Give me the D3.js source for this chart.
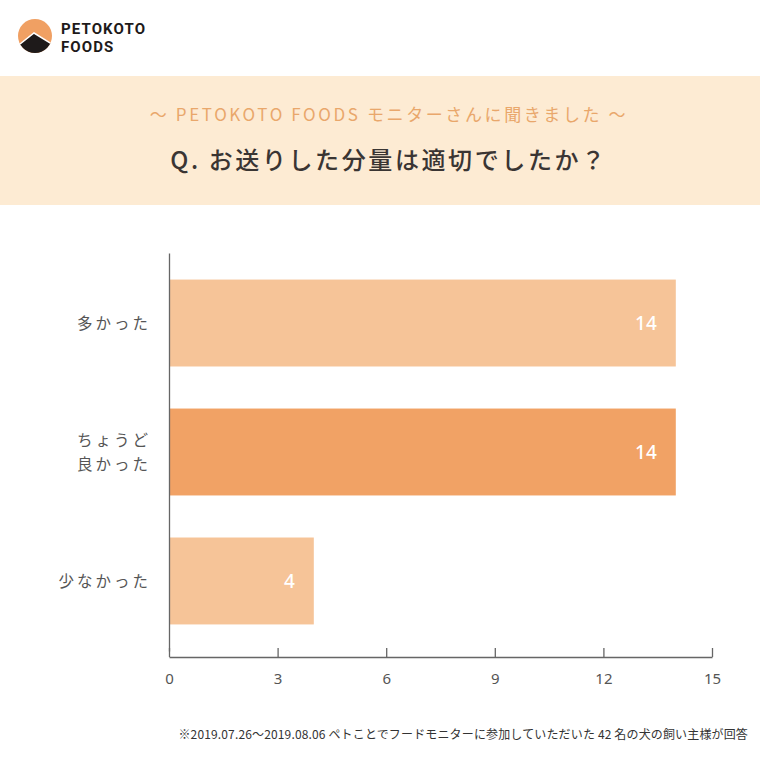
<!DOCTYPE html>
<html>
<head>
<meta charset="utf-8">
<script src="https://cdn.jsdelivr.net/npm/d3@7"></script>
<style>
  body { margin: 0; background: #fff; }
  svg { display: block; }
  text { font-family: "Noto Sans CJK JP", "Noto Sans", sans-serif; }
</style>
</head>
<body>
<div id="chart"></div>
<script>
// data
const categories = ['多かった', 'ちょうど\n良かった', '少なかった']
const counts = [14, 14, 4]
const barColors = ['#f6c498', '#f1a265', '#f6c498']
const xTicks = [0, 3, 6, 9, 12, 15]

const subtitle = '〜 PETOKOTO  FOODS モニターさんに聞きました 〜'
const title = 'Q. お送りした分量は適切でしたか？'
const footnote = '※2019.07.26〜2019.08.06 ペトことでフードモニターに参加していただいた 42 名の犬の飼い主様が回答'

const W = 760, H = 760
const margin = {top: 253, right: 48, bottom: 103, left: 169}

const svg = d3.select('#chart').append('svg')
  .attr('width', W)
  .attr('height', H)

// header logo
const logo = svg.append('g').attr('transform', 'translate(35,36)')
logo.append('clipPath').attr('id', 'logo-clip')
  .append('circle').attr('r', 17)
logo.append('circle').attr('r', 17).attr('fill', '#f0a063')
logo.append('path')
  .attr('clip-path', 'url(#logo-clip)')
  .attr('d', 'M-20,12 L-1,-3 L20,10 L20,20 L-20,20 Z')
  .attr('fill', '#1e1a1a')
  .attr('stroke', '#fff')
  .attr('stroke-width', 1.5)
svg.append('text')
  .attr('x', 61).attr('y', 34)
  .style('font-family', 'Roboto, sans-serif')
  .style('font-weight', 700)
  .style('font-size', '15px')
  .style('letter-spacing', '1.1px')
  .attr('fill', '#1e1a1a')
  .text('PETOKOTO')
svg.append('text')
  .attr('x', 61).attr('y', 52)
  .style('font-family', 'Roboto, sans-serif')
  .style('font-weight', 700)
  .style('font-size', '15px')
  .style('letter-spacing', '1.1px')
  .attr('fill', '#1e1a1a')
  .text('FOODS')

// banner
svg.append('rect')
  .attr('x', 0).attr('y', 76)
  .attr('width', W).attr('height', 129)
  .attr('fill', '#fdebd3')
svg.append('text')
  .attr('x', 389).attr('y', 121)
  .attr('text-anchor', 'middle')
  .style('font-size', '17px')
  .style('letter-spacing', '2.6px')
  .attr('fill', '#e9a76b')
  .text(subtitle)
svg.append('text')
  .attr('x', 389).attr('y', 169)
  .attr('text-anchor', 'middle')
  .style('font-size', '24px')
  .style('font-weight', 500)
  .style('letter-spacing', '2.6px')
  .attr('fill', '#3a3533')
  .text(title)

// chart
const innerH = H - margin.top - margin.bottom
const g = svg.append('g')
  .attr('transform', `translate(${margin.left},${margin.top})`)

const xs = d3.scaleLinear().domain([0, 15]).range([0, 15 * 36.2])
const ys = d3.scaleBand().domain(categories).range([0, innerH - 6])
  .paddingInner(0.326).paddingOuter(0.206)

// bars
g.selectAll('.bar')
  .data(categories)
  .enter().append('rect')
  .classed('bar', true)
  .attr('x', 0)
  .attr('y', (d) => ys(d))
  .attr('width', (d, i) => xs(counts[i]))
  .attr('height', ys.bandwidth())
  .attr('fill', (d, i) => barColors[i])

// value labels
g.selectAll('.val')
  .data(categories)
  .enter().append('text')
  .classed('val', true)
  .attr('x', (d, i) => xs(counts[i]) - 19)
  .attr('y', (d) => ys(d) + ys.bandwidth() / 2)
  .attr('dy', '0.36em')
  .attr('text-anchor', 'end')
  .style('font-family', '"Noto Sans", sans-serif')
  .style('font-size', '19px')
  .style('font-weight', 500)
  .attr('fill', '#fff')
  .text((d, i) => counts[i])

// x axis
const xAxis = g.append('g')
  .attr('transform', `translate(0,${innerH})`)
  .call(d3.axisBottom(xs).tickValues(xTicks).tickSize(-9).tickSizeOuter(0).tickPadding(16))
xAxis.select('.domain').attr('stroke', '#666').attr('stroke-width', 1.3)
xAxis.selectAll('.tick line').attr('stroke', '#666').attr('stroke-width', 1.3)
xAxis.selectAll('.tick text')
  .style('font-family', '"Noto Sans", sans-serif')
  .style('font-size', '15px')
  .attr('fill', '#555')

// y axis
const yAxis = g.append('g')
  .call(d3.axisLeft(ys).tickSize(0).tickSizeOuter(0).tickPadding(18))
yAxis.select('.domain').attr('stroke', '#666').attr('stroke-width', 1.3)
yAxis.selectAll('.tick text')
  .style('font-size', '15.5px')
  .style('letter-spacing', '3px')
  .attr('fill', '#555')
  .each(function (d) {
    let lines = d.split('\n')
    let t = d3.select(this).text(null).attr('dy', null)
    lines.forEach((line, i) => {
      t.append('tspan')
        .attr('x', -18)
        .attr('y', (i - (lines.length - 1) / 2) * 24)
        .attr('dy', '0.36em')
        .text(line)
    })
  })

// footnote
svg.append('text')
  .attr('x', 748).attr('y', 739)
  .attr('text-anchor', 'end')
  .style('font-size', '12px')
  .style('letter-spacing', '0.15px')
  .attr('fill', '#333')
  .text(footnote)
</script>
</body>
</html>
